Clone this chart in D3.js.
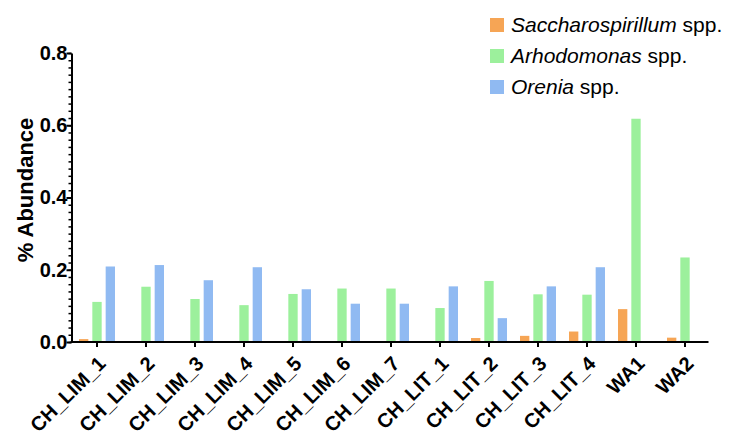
<!DOCTYPE html>
<html>
<head>
<meta charset="utf-8">
<script src="https://cdn.jsdelivr.net/npm/d3@7"></script>
<style>
  html, body { margin: 0; padding: 0; background: #fff; }
  svg { display: block; }
  text { font-family: "Liberation Sans", Arial, Helvetica, sans-serif; }
</style>
</head>
<body>
<svg id="chart" width="731" height="437"></svg>
<script>
// Sample names along the x axis
const categories = ["CH_LIM_1", "CH_LIM_2", "CH_LIM_3", "CH_LIM_4", "CH_LIM_5", "CH_LIM_6",
  "CH_LIM_7", "CH_LIT_1", "CH_LIT_2", "CH_LIT_3", "CH_LIT_4", "WA1", "WA2"];

// Relative abundance (%) per genus
const saccharospirillum = [0.008, 0, 0, 0, 0, 0, 0, 0, 0.011, 0.017, 0.029, 0.091, 0.012];
const arhodomonas = [0.111, 0.153, 0.119, 0.102, 0.133, 0.148, 0.148, 0.094, 0.169, 0.132, 0.131, 0.618, 0.234];
const orenia = [0.209, 0.213, 0.171, 0.207, 0.146, 0.106, 0.106, 0.154, 0.066, 0.154, 0.207, 0, 0];

const seriesNames = ["Saccharospirillum", "Arhodomonas", "Orenia"];
const seriesColors = ["#F6A555", "#9CF09C", "#90BAF2"];
const seriesValues = [saccharospirillum, arhodomonas, orenia];

const yMajorTicks = [0, 0.2, 0.4, 0.6, 0.8];
const yTickLabels = ["0.0", "0.2", "0.4", "0.6", "0.8"];

const svg = d3.select("#chart");

const axisX = 71.5, baseY = 342, topY = 53;

const x = d3.scaleBand().domain(categories).range([axisX + 1, axisX + 1 + 49 * categories.length]);
const inner = d3.scaleBand().domain(d3.range(seriesNames.length))
  .range([-20, 20]).paddingInner(0.3).paddingOuter(0.15);
const y = d3.scaleLinear().domain([0, 0.8]).range([baseY, topY]);

// Bars
const groups = svg.append("g");
seriesValues.forEach((vals, si) => {
  groups.selectAll(null)
    .data(vals.map((v, i) => ({ cat: categories[i], v })).filter(d => d.v > 0))
    .join("rect")
    .attr("x", d => x(d.cat) + x.bandwidth() / 2 + inner(si))
    .attr("width", inner.bandwidth())
    .attr("y", d => y(d.v))
    .attr("height", d => y(0) - y(d.v))
    .attr("fill", seriesColors[si]);
});

// Y axis: minor ticks every 0.02, then majors with labels
const minorTicks = d3.range(0, 0.8001, 0.02).map(v => +v.toFixed(2));
const yMinor = svg.append("g").attr("transform", `translate(${axisX},0)`)
  .call(d3.axisLeft(y).tickValues(minorTicks).tickSize(3).tickFormat(""));
yMinor.select(".domain").remove();
yMinor.selectAll("line").attr("stroke", "#000").attr("stroke-width", 1.5);

const yAxis = svg.append("g").attr("transform", `translate(${axisX},0)`)
  .call(d3.axisLeft(y).tickValues(yMajorTicks).tickSize(5).tickSizeOuter(0)
    .tickFormat((d, i) => yTickLabels[i]).tickPadding(-1));
yAxis.select(".domain").attr("stroke", "#000").attr("stroke-width", 2);
yAxis.selectAll("line").attr("stroke", "#000").attr("stroke-width", 2);
yAxis.selectAll("text").attr("font-size", 20).attr("font-weight", "bold").attr("fill", "#000");

// X axis
const xAxis = svg.append("g").attr("transform", `translate(0,${baseY})`)
  .call(d3.axisBottom(x).tickSize(5).tickSizeOuter(0).tickFormat(""));
xAxis.select(".domain").attr("stroke", "#000").attr("stroke-width", 2)
  .attr("d", `M${axisX - 1},0H${x.range()[1] - 1}`);
xAxis.selectAll("line").attr("stroke", "#000").attr("stroke-width", 2);

// Rotated category labels
svg.append("g").selectAll("text")
  .data(categories)
  .join("text")
  .attr("transform", d => `translate(${x(d) + x.bandwidth() / 2 + 5},${baseY + 18}) rotate(-45)`)
  .attr("text-anchor", "end")
  .attr("dy", "0.35em")
  .attr("font-size", 20)
  .attr("font-weight", "bold")
  .text(d => d);

// Y axis title
svg.append("text")
  .attr("transform", "translate(33,190) rotate(-90)")
  .attr("text-anchor", "middle")
  .attr("font-size", 22)
  .attr("font-weight", "bold")
  .text("% Abundance");

// Legend
const legend = svg.append("g").attr("transform", "translate(490,25)");
seriesNames.forEach((name, i) => {
  const row = legend.append("g").attr("transform", `translate(0,${i * 31})`);
  row.append("rect").attr("x", 0).attr("y", -7).attr("width", 14).attr("height", 14)
    .attr("fill", seriesColors[i]);
  const t = row.append("text").attr("x", 21).attr("dy", "0.35em").attr("font-size", 21);
  t.append("tspan").attr("font-style", "italic").text(name);
  t.append("tspan").text(" spp.");
});
</script>
</body>
</html>
